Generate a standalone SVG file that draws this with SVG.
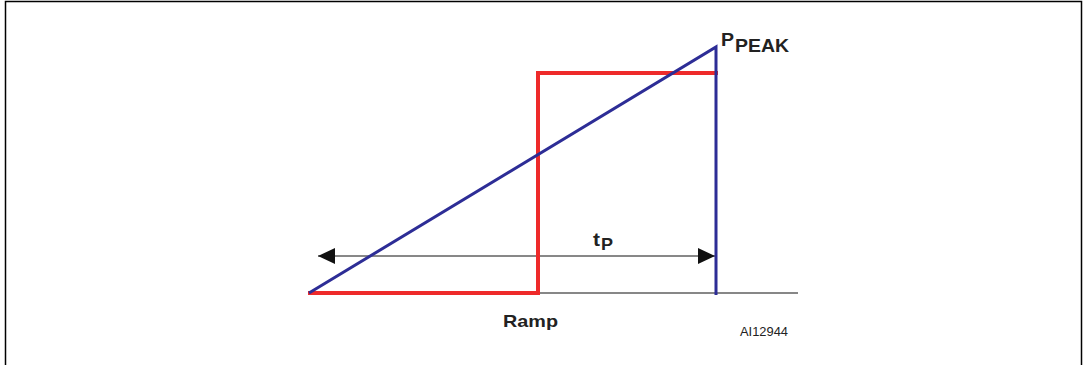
<svg xmlns="http://www.w3.org/2000/svg" width="1083" height="365" viewBox="0 0 1083 365">
<style>
.t{font-family:"Liberation Sans",Arial,sans-serif;fill:#222;}
</style>
<defs>
<marker id="ah" markerWidth="17" markerHeight="16" refX="17" refY="8" orient="auto-start-reverse" markerUnits="userSpaceOnUse" viewBox="0 0 17 16">
<path d="M0,0 L17,8 L0,16 Z" fill="#111"/>
</marker>
</defs>
<rect x="0" y="0" width="1083" height="365" fill="#fff"/>
<rect x="5.5" y="1.5" width="1076" height="370" fill="none" stroke="#000" stroke-width="1.5"/>
<g id="connectors">
<line x1="308" y1="293" x2="798" y2="293" stroke="#111" stroke-width="1.2"/>
<line x1="318" y1="256" x2="715" y2="256" stroke="#111" stroke-width="1" marker-start="url(#ah)" marker-end="url(#ah)"/>
</g>
<g id="ramp-red">
<polyline points="308,293 538,293 538,73 718,73" fill="none" stroke="#ee2a2a" stroke-width="4"/>
</g>
<g id="ramp-blue">
<polyline points="309,293 716,47 716,295" fill="none" stroke="#2d2d96" stroke-width="3"/>
</g>
<g id="labels">
<text class="t" x="721" y="46" font-size="19" font-weight="bold" textLength="13" lengthAdjust="spacingAndGlyphs">P</text>
<text class="t" x="735" y="52" font-size="18" font-weight="bold" textLength="54" lengthAdjust="spacingAndGlyphs">PEAK</text>
<text class="t" x="593" y="246" font-size="18" font-weight="bold" textLength="7" lengthAdjust="spacingAndGlyphs">t</text>
<text class="t" x="601" y="250" font-size="17" font-weight="bold" textLength="12" lengthAdjust="spacingAndGlyphs">P</text>
<text class="t" x="503" y="327" font-size="17" font-weight="bold" textLength="55" lengthAdjust="spacingAndGlyphs">Ramp</text>
<text class="t" x="740" y="336" font-size="12" textLength="48" lengthAdjust="spacingAndGlyphs">AI12944</text>
</g>
</svg>
